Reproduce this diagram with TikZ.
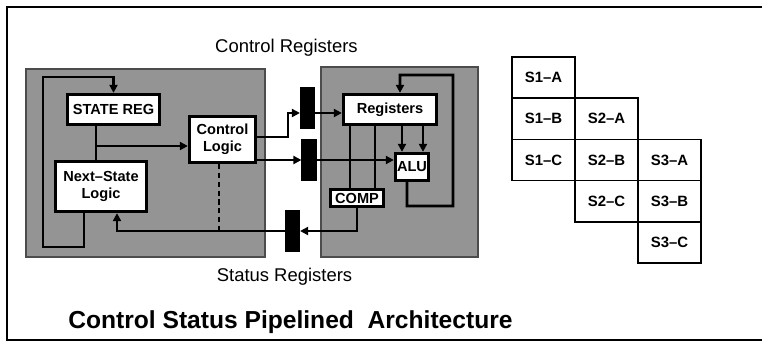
\documentclass[tikz,border=0pt]{standalone}
\usepackage{fontspec}
\setmainfont{Liberation Sans}
\usetikzlibrary{arrows.meta}

\begin{document}
\begin{tikzpicture}[
  x=0.02cm, y=-0.02cm,
  panel/.style={draw=black!70, fill=black!42, line width=0.6pt, inner sep=0pt},
  blk/.style={draw, fill=white, line width=1.6pt, inner sep=0pt, align=center,
              font=\bfseries\fontsize{8.3}{9.5}\selectfont},
  latch/.style={draw, fill=black, inner sep=0pt, minimum width=0.29cm, minimum height=0.83cm},
  cell/.style={draw, line width=0.9pt, inner sep=0pt, minimum width=1.26cm, minimum height=0.824cm,
               font=\bfseries\fontsize{8.5}{10}\selectfont},
  wire/.style={line width=1.5pt},
  arr/.style={wire, -{Triangle[length=4.5pt,width=4.5pt]}},
  lbl/.style={font=\fontsize{10.5}{12}\selectfont}
]
\useasboundingbox (0,0) rectangle (762,342);

% frame, open on the right
\draw[line width=0.85pt] (762,7) -- (7,7) -- (7,340) -- (762,340);

% shaded units
\node[panel, minimum width=4.78cm, minimum height=3.76cm] (ctrlunit) at (145.5,163) {};
\node[panel, minimum width=3.14cm, minimum height=3.8cm] (dataunit) at (399.5,162) {};

\node[blk, minimum width=1.85cm, minimum height=0.61cm] (statereg) at (113.5,109.5) {STATE REG};
\node[blk, minimum width=1.33cm, minimum height=0.93cm] (ctrllogic) at (222.5,139.5) {Control\\Logic};
\node[blk, minimum width=1.83cm, minimum height=1.01cm] (nextstate) at (101,186.5) {Next\textendash State\\Logic};
\node[blk, minimum width=1.87cm, minimum height=0.61cm] (regs) at (390,109.5) {Registers};
\node[blk, minimum width=0.67cm, minimum height=0.55cm] (alu) at (412,167) {ALU};
\node[blk, minimum width=1.07cm, minimum height=0.35cm] (comp) at (357,198) {COMP};

% pipeline latches
\node[latch] (bar1) at (307.5,108) {};
\node[latch] (bar2) at (309,160) {};
\node[latch] (bar3) at (292.5,231) {};

\node[lbl] (ctrlregs) at (286.5,48) {Control Registers};
\node[lbl] (statregs) at (284.5,277) {Status Registers};

% control side
\coordinate (tap) at (96,146);
\coordinate (up1) at (288,113);
\draw[arr] ([xshift=-0.34cm]nextstate.south) |- (43,247) |- (113.5,77) -- (statereg.north);
\draw[wire] ([xshift=-0.35cm]statereg.south) -- ([xshift=-0.35cm]statereg.south |- nextstate.north);
\draw[arr] (tap) -- (tap -| ctrllogic.west);
\draw[arr] ([yshift=0.05cm]ctrllogic.east) -| (up1) -- (up1 -| bar1.west);
\draw[arr] (bar2.west -| ctrllogic.east) -- (bar2.west);
\draw[wire, line width=1.2pt, dash pattern=on 3pt off 2pt] ([xshift=-0.07cm]ctrllogic.south) -- ([xshift=-0.07cm]ctrllogic.south |- bar3.west);

% data side
\draw[arr] (up1 -| bar1.east) -- (up1 -| regs.west);
\draw[arr] (bar2.east) -- (bar2.east -| alu.west);
\foreach \dx in {-0.8cm,-0.3cm}
  \draw[wire] ([xshift=\dx]regs.south) -- ([xshift=\dx]regs.south |- comp.north);
\foreach \dx in {0.24cm,0.66cm}
  \draw[arr] ([xshift=\dx]regs.south) -- ([xshift=\dx]regs.south |- alu.north);
\draw[arr] ([xshift=-0.1cm]alu.south) |- (453,206) |- (400,75) -- ([xshift=0.2cm]regs.north);

% status path
\draw[arr] (comp.south) |- (bar3.east);
\draw[arr] (bar3.west) -| ([xshift=0.32cm]nextstate.south);

% pipeline stages
\foreach \s in {1,2,3}
  \foreach \l [count=\r from 0] in {A,B,C}
    \node[cell] (s\s\l) at ({543.5+63*(\s-1)}, {77.6+41.2*(\s-1+\r)}) {S\s\textendash\l};

\node[font=\bfseries\fontsize{14}{16}\selectfont, anchor=west, inner sep=0pt] (title) at (68,322) {Control Status Pipelined\ \ Architecture};

\end{tikzpicture}
\end{document}
